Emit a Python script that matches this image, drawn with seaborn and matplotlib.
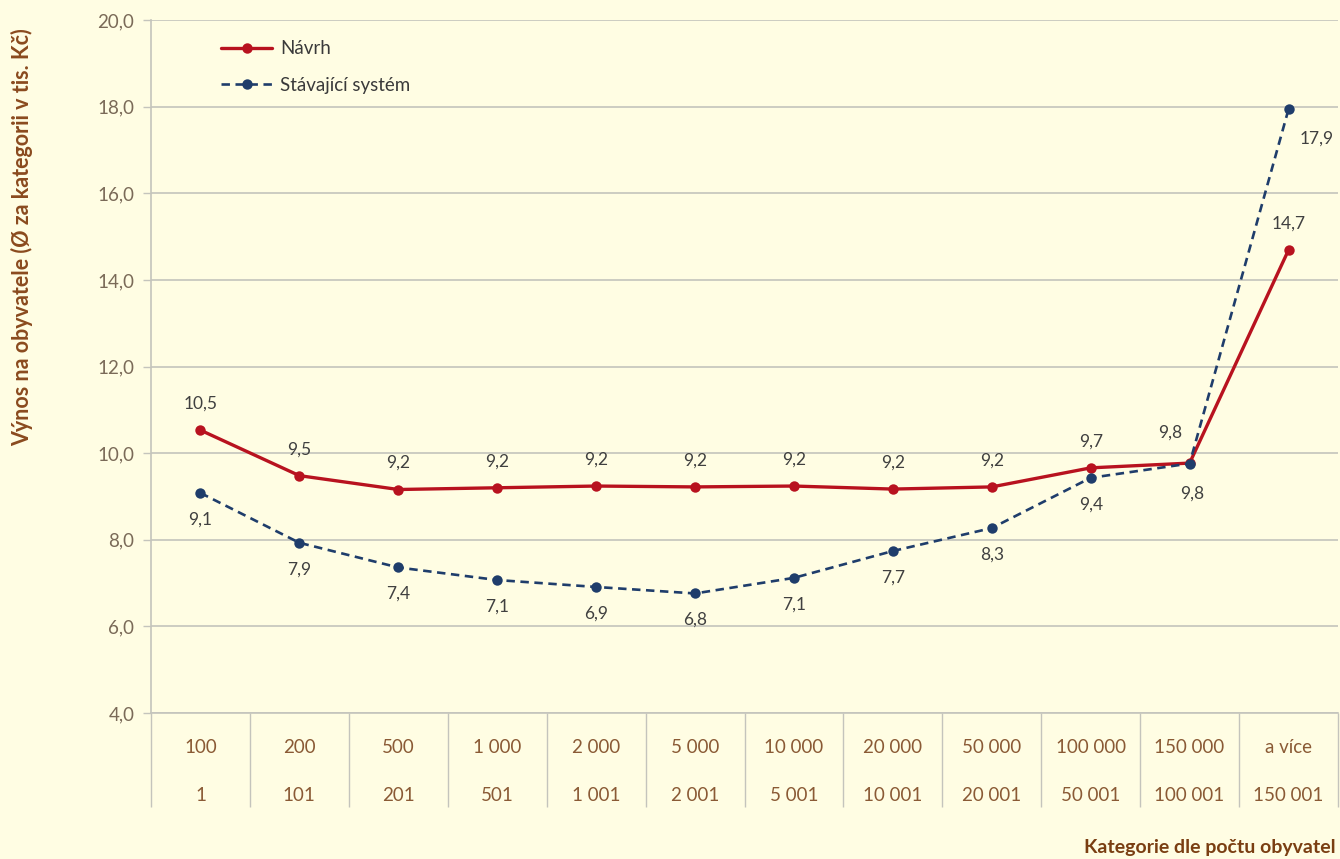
import numpy as np
import pandas as pd
import matplotlib
matplotlib.use("Agg")
import matplotlib.pyplot as plt
import seaborn as sns

upper = ["100", "200", "500", "1 000", "2 000", "5 000", "10 000", "20 000",
         "50 000", "100 000", "150 000", "a více"]
lower = ["1", "101", "201", "501", "1 001", "2 001", "5 001", "10 001",
         "20 001", "50 001", "100 001", "150 001"]
navrh = [10.53, 9.48, 9.16, 9.2, 9.24, 9.22, 9.24, 9.17, 9.22, 9.66, 9.77, 14.69]
stavajici = [9.08, 7.93, 7.36, 7.07, 6.91, 6.76, 7.12, 7.74, 8.27, 9.43, 9.76, 17.94]
series_names = ["Návrh", "Stávající systém"]

sns.set_theme(style="white")
plt.rcParams['font.family'] = ['Lato', 'DejaVu Sans']

BG = "#fffde3"
RED = "#b8121f"
BLUE = "#1f3d6b"
TICK_C = "#8a5a35"
YTICK_C = "#7a6a58"
GRID_C = "#c4c4bc"

fig = plt.figure(figsize=(13.4, 8.59), dpi=100, facecolor=BG)
ax = fig.add_axes([151/1340, 1-713/859, (1338-151)/1340, (713-20)/859])
ax.set_facecolor(BG)

pos = np.arange(len(upper))
df_n = pd.DataFrame({"x": pos, "y": navrh})
df_s = pd.DataFrame({"x": pos, "y": stavajici})

sns.lineplot(data=df_n, x="x", y="y", color=RED, linewidth=2.4, marker="o",
             markersize=7.5, markeredgewidth=0, ax=ax, label=series_names[0], zorder=3)
sns.lineplot(data=df_s, x="x", y="y", color=BLUE, linewidth=1.9, linestyle=(0, (3.2, 2.1)),
             marker="o", markersize=7.5, markeredgewidth=0, ax=ax,
             label=series_names[1], zorder=4)

h, l = ax.get_legend_handles_labels()
leg = ax.legend(h, l, loc="upper left", bbox_to_anchor=(0.045, 0.995), frameon=False,
                fontsize=13.5, handlelength=2.7, handletextpad=0.45, labelspacing=1.05,
                labelcolor="#3a3a3a")

ax.set_xlim(-0.5, 11.5)
ax.set_ylim(4, 20)
yt = np.arange(4, 20.1, 2)
ax.set_yticks(yt)
ax.set_yticklabels([f"{v:.1f}".replace(".", ",") for v in yt], color=YTICK_C, fontsize=13.5)
ax.yaxis.grid(True, color=GRID_C, linewidth=1.2)
ax.tick_params(axis="y", which="major", length=6, width=1, color=GRID_C, pad=6, left=True)

ax.set_xticks(pos)
ax.set_xticklabels([f"{u}\n{lo}" for u, lo in zip(upper, lower)], color=TICK_C,
                   fontsize=13.5, linespacing=3.2)
ax.set_xticks(np.arange(-0.5, 11.6, 1), minor=True)
ax.tick_params(axis="x", which="major", length=0, pad=19)
ax.tick_params(axis="x", which="minor", length=68, width=1, color=GRID_C, bottom=True)

for s in ["top", "right"]:
    ax.spines[s].set_visible(False)
for s in ["left", "bottom"]:
    ax.spines[s].set_color(GRID_C)
    ax.spines[s].set_linewidth(1.2)
ax.set_xlabel("")
ax.set_ylabel("")

fmt = lambda v: f"{v:.1f}".replace(".", ",")
LBL_C = "#404040"
for i, v in enumerate(navrh):
    dx, dy = 0, 19
    if i == 10:
        dx, dy = -14, 22
    ax.annotate(fmt(v), (pos[i], v), xytext=(dx, dy), textcoords="offset points",
                ha="center", va="center", fontsize=12.5, color=LBL_C)
for i, v in enumerate(stavajici):
    dx, dy = 0, -19
    if i == 11:
        dx, dy = 20, -21
    if i == 10:
        dx, dy = 2, -22
    ax.annotate(fmt(v), (pos[i], v), xytext=(dx, dy), textcoords="offset points",
                ha="center", va="center", fontsize=12.5, color=LBL_C)

fig.text(22/1340, 1-237/859, "Výnos na obyvatele (Ø za kategorii v tis. Kč)",
         rotation=90, ha="center", va="center", fontsize=15.5, color="#8a4a1e",
         fontweight="bold")
fig.text(1336/1340, 1-848/859, "Kategorie dle počtu obyvatel", ha="right", va="center",
         fontsize=14, color="#7a3e12", fontweight="bold")

fig.savefig("out.png", dpi=100, facecolor=BG)
